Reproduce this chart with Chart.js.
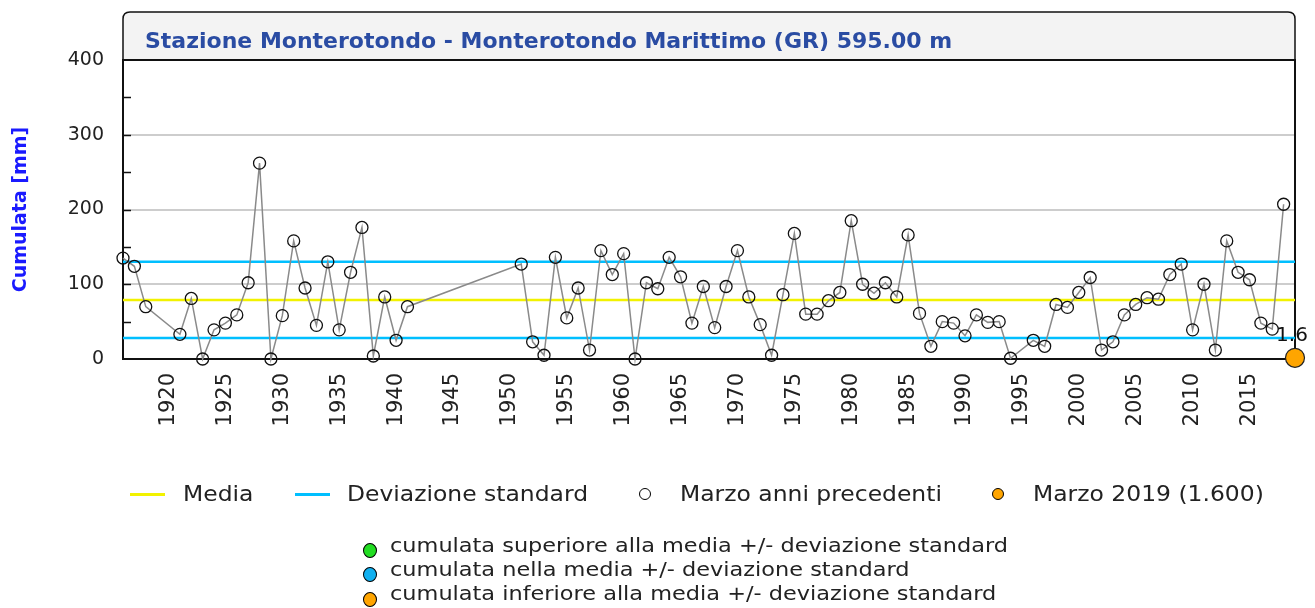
<!DOCTYPE html>
<html lang="it">
<head>
<meta charset="UTF-8">
<title>Stazione Monterotondo - Cumulata Marzo</title>
<style>
  body { margin: 0; background: #fff; font-family: 'DejaVu Sans', sans-serif; }
  #wrap { position: relative; width: 1315px; height: 608px; overflow: hidden; }
  #chart { position: absolute; left: 0; top: 0; }
  .leg { position: absolute; font-size: 21px; color: #222; white-space: nowrap; line-height: 24px;
         transform: scaleX(1.116); transform-origin: left center; }
  .line { position: absolute; height: 3px; }
  .dot { position: absolute; border-radius: 50%; border: 1.2px solid #000; box-sizing: border-box; }
  .small { font-size: 19px; line-height: 22px; transform: scaleX(1.18); }
</style>
<script src="https://cdn.jsdelivr.net/npm/chart.js"></script>
</head>
<body>
<div id="wrap">
  <canvas id="chart" width="1315" height="608"></canvas>

  <!-- legenda -->
  <div class="line" style="left:130px; top:493px; width:35px; background:#f2f200;"></div>
  <div class="leg" style="left:183px; top:482px;">Media</div>
  <div class="line" style="left:295px; top:493px; width:35px; background:#00bfff;"></div>
  <div class="leg" style="left:347px; top:482px;">Deviazione standard</div>
  <div class="dot" style="left:639px; top:488px; width:12px; height:12px; background:#fff;"></div>
  <div class="leg" style="left:680px; top:482px;">Marzo anni precedenti</div>
  <div class="dot" style="left:992px; top:488px; width:12px; height:12px; background:#ffa500;"></div>
  <div class="leg" style="left:1033px; top:482px;">Marzo 2019 (1.600)</div>

  <div class="dot" style="left:363px; top:543px; width:14px; height:15px; background:#22dd22;"></div>
  <div class="leg small" style="left:390px; top:534px;">cumulata superiore alla media +/- deviazione standard</div>
  <div class="dot" style="left:363px; top:567px; width:14px; height:15px; background:#10b0f0;"></div>
  <div class="leg small" style="left:390px; top:558px;">cumulata nella media +/- deviazione standard</div>
  <div class="dot" style="left:363px; top:592px; width:14px; height:15px; background:#ffa500;"></div>
  <div class="leg small" style="left:390px; top:582px;">cumulata inferiore alla media +/- deviazione standard</div>
</div>

<script>
// anni con dato (mancano 1919-1920, 1942-1950, 1995)
const years = [
  1916, 1917, 1918, 1921, 1922, 1923, 1924, 1925, 1926, 1927,
  1928, 1929, 1930, 1931, 1932, 1933, 1934, 1935, 1936, 1937,
  1938, 1939, 1940, 1941, 1951, 1952, 1953, 1954, 1955, 1956,
  1957, 1958, 1959, 1960, 1961, 1962, 1963, 1964, 1965, 1966,
  1967, 1968, 1969, 1970, 1971, 1972, 1973, 1974, 1975, 1976,
  1977, 1978, 1979, 1980, 1981, 1982, 1983, 1984, 1985, 1986,
  1987, 1988, 1989, 1990, 1991, 1992, 1993, 1994, 1996, 1997,
  1998, 1999, 2000, 2001, 2002, 2003, 2004, 2005, 2006, 2007,
  2008, 2009, 2010, 2011, 2012, 2013, 2014, 2015, 2016, 2017,
  2018
];

// cumulata di marzo [mm]
const values = [
  135, 124, 70, 33, 81, 0, 39, 48, 59, 102,
  262, 0, 58, 158, 95, 45, 130, 39, 116, 176,
  4, 83, 25, 70, 127, 23, 5, 136, 55, 95,
  12, 145, 113, 141, 0, 102, 94, 136, 110, 48,
  97, 42, 97, 145, 83, 46, 5, 86, 168, 60,
  60, 78, 89, 185, 100, 88, 102, 83, 166, 61,
  17, 50, 48, 31, 59, 49, 50, 1, 25, 17,
  73, 69, 89, 109, 12, 23, 59, 73, 82, 80,
  113, 127, 39, 100, 12, 158, 116, 106, 48, 40,
  207
];

const currentYear = [2019];
const currentValue = [1.6];

const media = 79;
const devSup = 130;
const devInf = 28;

const xTicks = [1920, 1925, 1930, 1935, 1940, 1945, 1950, 1955, 1960, 1965,
                1970, 1975, 1980, 1985, 1990, 1995, 2000, 2005, 2010, 2015];
const yTicks = [0, 100, 200, 300, 400];

const xMin = 1916, xMax = 2019;

// riquadro del titolo, cornice e tacche interne
const framePlugin = {
  id: 'frame',
  beforeDatasetsDraw(chart) {
    const { ctx, chartArea: a, scales } = chart;
    ctx.save();
    ctx.strokeStyle = '#111';
    ctx.lineWidth = 2;
    ctx.strokeRect(a.left, a.top, a.right - a.left, a.bottom - a.top);
    // tacche ogni 50 verso l'interno
    ctx.lineWidth = 1.5;
    for (let v = 50; v < 400; v += 50) {
      const y = Math.round(scales.y.getPixelForValue(v)) + 0.5;
      ctx.beginPath();
      ctx.moveTo(a.left, y);
      ctx.lineTo(a.left + 8, y);
      ctx.stroke();
    }
    ctx.restore();
  },
  afterDraw(chart) {
    const { ctx, chartArea: a, scales } = chart;
    ctx.save();
    // box titolo
    const top = 12, r = 7;
    ctx.beginPath();
    ctx.moveTo(a.left, a.top);
    ctx.lineTo(a.left, top + r);
    ctx.quadraticCurveTo(a.left, top, a.left + r, top);
    ctx.lineTo(a.right - r, top);
    ctx.quadraticCurveTo(a.right, top, a.right, top + r);
    ctx.lineTo(a.right, a.top);
    ctx.closePath();
    ctx.fillStyle = '#f3f3f3';
    ctx.fill();
    ctx.strokeStyle = '#111';
    ctx.lineWidth = 1.5;
    ctx.stroke();
    ctx.beginPath();
    ctx.lineWidth = 2;
    ctx.moveTo(a.left, a.top);
    ctx.lineTo(a.right, a.top);
    ctx.stroke();

    ctx.fillStyle = '#2a4ca3';
    ctx.font = 'bold 22px "DejaVu Sans"';
    ctx.textBaseline = 'middle';
    ctx.fillText('Stazione Monterotondo - Monterotondo Marittimo (GR) 595.00 m', a.left + 22, 42);

    // etichetta del valore corrente
    const px = scales.x.getPixelForValue(currentYear[0]);
    const py = scales.y.getPixelForValue(currentValue[0]);
    ctx.fillStyle = '#111';
    ctx.font = '20px "DejaVu Sans"';
    ctx.textAlign = 'center';
    ctx.fillText(String(currentValue[0]), px - 3, py - 22);
    ctx.restore();
  }
};

const ctx = document.getElementById('chart').getContext('2d');
new Chart(ctx, {
  type: 'line',
  data: {
    datasets: [
      {
        label: 'Marzo 2019',
        data: currentYear.map((y, i) => ({ x: y, y: currentValue[i] })),
        showLine: false,
        pointRadius: 9.5,
        pointBackgroundColor: '#ffa500',
        pointBorderColor: '#222',
        pointBorderWidth: 1.2,
        clip: false,
        order: 0
      },
      {
        label: 'Marzo anni precedenti',
        data: years.map((y, i) => ({ x: y, y: values[i] })),
        borderColor: '#8a8a8a',
        borderWidth: 1.5,
        pointRadius: 6,
        pointBorderColor: '#111',
        pointBackgroundColor: 'rgba(255,255,255,0)',
        pointBorderWidth: 1.3,
        tension: 0,
        clip: false,
        order: 1
      },
      {
        label: 'Media',
        data: [{ x: xMin, y: media }, { x: xMax, y: media }],
        borderColor: '#f2f200',
        borderWidth: 2.5,
        pointRadius: 0,
        order: 2
      },
      {
        label: 'Deviazione standard',
        data: [{ x: xMin, y: devSup }, { x: xMax, y: devSup }],
        borderColor: '#00bfff',
        borderWidth: 2.5,
        pointRadius: 0,
        order: 2
      },
      {
        label: 'Deviazione standard inf',
        data: [{ x: xMin, y: devInf }, { x: xMax, y: devInf }],
        borderColor: '#00bfff',
        borderWidth: 2.5,
        pointRadius: 0,
        order: 2
      }
    ]
  },
  options: {
    responsive: false,
    animation: false,
    layout: { padding: { top: 60, right: 20, left: 0, bottom: 0 } },
    plugins: {
      legend: { display: false },
      tooltip: { enabled: false }
    },
    scales: {
      x: {
        type: 'linear',
        min: xMin,
        max: xMax,
        afterBuildTicks: s => { s.ticks = xTicks.map(v => ({ value: v })); },
        afterFit: s => { s.height = 249; },
        grid: { display: false, drawTicks: false },
        border: { display: false },
        ticks: {
          autoSkip: false,
          minRotation: 90,
          maxRotation: 90,
          padding: 14,
          color: '#222',
          font: { family: 'DejaVu Sans', size: 21 },
          callback: v => String(v)
        }
      },
      y: {
        min: 0,
        max: 400,
        afterBuildTicks: s => { s.ticks = yTicks.map(v => ({ value: v })); },
        afterFit: s => { s.width = 123; },
        grid: {
          drawTicks: false,
          lineWidth: 2,
          color: c => (c.tick && c.tick.value > 0 && c.tick.value < 400) ? '#cdcdcd' : 'rgba(0,0,0,0)'
        },
        border: { display: false },
        ticks: {
          padding: 19,
          color: '#222',
          font: { family: 'DejaVu Sans', size: 19 }
        },
        title: {
          display: true,
          text: 'Cumulata [mm]',
          color: '#1a1aff',
          font: { family: 'DejaVu Sans', size: 19, weight: 'bold' },
          padding: { top: 10, bottom: 0 }
        }
      }
    }
  },
  plugins: [framePlugin]
});
</script>
</body>
</html>
